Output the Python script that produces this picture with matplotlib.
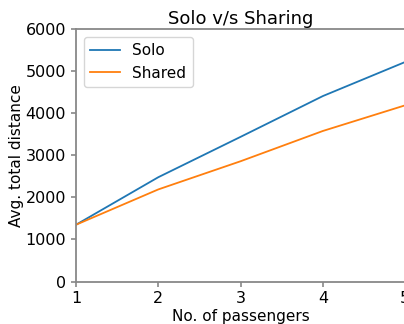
import matplotlib
matplotlib.use('Agg')
import matplotlib.pyplot as plt

# number of passengers vs average total distance
passengers = [1, 2, 3, 4, 5]
solo = [1350, 2480, 3440, 4410, 5220]
shared = [1350, 2190, 2860, 3580, 4190]

fig = plt.figure(figsize=(4.04, 3.24), dpi=100)
ax = fig.add_axes([0.188, 0.131, 0.815, 0.779])

ax.plot(passengers, solo, label='Solo', color='#1f77b4', linewidth=1.3)
ax.plot(passengers, shared, label='Shared', color='#ff7f0e', linewidth=1.3)

ax.set_xlim(1, 5)
ax.set_ylim(0, 6000)
ax.set_xticks(passengers)
ax.set_yticks(range(0, 6001, 1000))

for s in ax.spines.values():
    s.set_color('#888888')
    s.set_linewidth(1.3)
ax.tick_params(colors='#888888', labelcolor='black', labelsize=11.5, width=1.2, length=3.5)

ax.set_xlabel('No. of passengers', fontsize=11, labelpad=2)
ax.set_ylabel('Avg. total distance', fontsize=11, labelpad=1)
ax.set_title('Solo v/s Sharing', fontsize=13, pad=4)
ax.legend(loc='upper left', fontsize=11)

plt.savefig('out.png', dpi=100)
